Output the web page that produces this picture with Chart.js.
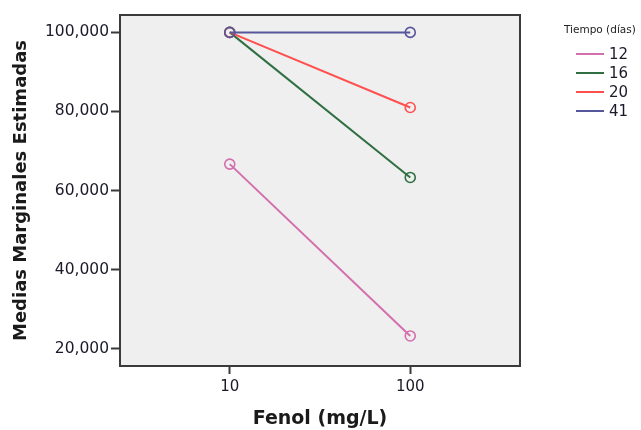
<!DOCTYPE html>
<html>
<head>
<meta charset="utf-8">
<script src="https://cdn.jsdelivr.net/npm/chart.js@4/dist/chart.umd.min.js"></script>
<style>
  html, body { margin: 0; padding: 0; background: #ffffff; }
  canvas { display: block; }
</style>
</head>
<body>
<canvas id="chart" width="641" height="430"></canvas>
<script>
// Fenol concentration levels (x categories)
const fenolLevels = ['10', '100'];

// Estimated marginal means per time group (días)
const tiempoGroups = ['12', '16', '20', '41'];
const serie12 = [66667, 23200];
const serie16 = [100000, 63300];
const serie20 = [100000, 81000];
const serie41 = [100000, 100000];

// Y axis ticks
const yTicks = [20000, 40000, 60000, 80000, 100000];

const seriesValues = [serie12, serie16, serie20, serie41];
const seriesColors = ['#d46fae', '#2f6f42', '#ff4f4f', '#56569c'];

const datasets = tiempoGroups.map((name, i) => ({
  label: name,
  data: seriesValues[i].map((v, j) => ({ x: j, y: v })),
  borderColor: seriesColors[i],
  backgroundColor: 'transparent',
  borderWidth: 2,
  pointRadius: 5,
  pointBorderWidth: 1.6,
  pointBorderColor: seriesColors[i],
  pointBackgroundColor: 'transparent',
  order: tiempoGroups.length - i
}));

const frame = {
  id: 'frame',
  beforeDatasetsDraw(chart) {
    const { ctx, chartArea: a } = chart;
    ctx.save();
    ctx.fillStyle = '#efefef';
    ctx.fillRect(a.left, a.top, a.right - a.left, a.bottom - a.top);
    ctx.restore();
  },
  afterDatasetsDraw(chart) {
    const { ctx, chartArea: a } = chart;
    ctx.save();
    ctx.strokeStyle = '#3a3a3a';
    ctx.lineWidth = 2;
    ctx.strokeRect(a.left, a.top, a.right - a.left, a.bottom - a.top);
    ctx.restore();
  },
  afterDraw(chart) {
    // legend for the time groups
    const { ctx } = chart;
    ctx.save();
    ctx.fillStyle = '#222222';
    ctx.font = '10.5px "DejaVu Sans"';
    ctx.textBaseline = 'middle';
    ctx.textAlign = 'left';
    ctx.fillText('Tiempo (días)', 564, 30);
    ctx.font = '15px "DejaVu Sans"';
    tiempoGroups.forEach((name, i) => {
      const y = 54 + i * 19;
      ctx.strokeStyle = seriesColors[i];
      ctx.lineWidth = 2;
      ctx.beginPath();
      ctx.moveTo(576, y);
      ctx.lineTo(604, y);
      ctx.stroke();
      ctx.fillStyle = '#1a1a2a';
      ctx.fillText(name, 609, y + 1);
    });
    ctx.restore();
  }
};

new Chart(document.getElementById('chart'), {
  type: 'line',
  data: { datasets },
  options: {
    responsive: false,
    animation: false,
    layout: { padding: { top: 15, right: 121, left: 0, bottom: 0 } },
    plugins: { legend: { display: false }, tooltip: { enabled: false } },
    scales: {
      x: {
        type: 'linear',
        min: -0.608,
        max: 1.608,
        afterBuildTicks: s => { s.ticks = fenolLevels.map((_, i) => ({ value: i })); },
        afterFit: s => { s.height = 64; },
        ticks: {
          callback: v => fenolLevels[v],
          font: { family: 'DejaVu Sans', size: 15 },
          color: '#1a1a2a',
          padding: 4,
          maxRotation: 0
        },
        grid: { drawOnChartArea: false, tickLength: 8, color: '#3a3a3a', tickWidth: 2 },
        border: { display: false },
        title: {
          display: true,
          text: 'Fenol (mg/L)',
          font: { family: 'DejaVu Sans', size: 19, weight: 'bold' },
          color: '#1a1a1a',
          padding: { top: 4, bottom: 0 }
        }
      },
      y: {
        type: 'linear',
        min: 15600,
        max: 104400,
        afterBuildTicks: s => { s.ticks = yTicks.map(v => ({ value: v })); },
        afterFit: s => { s.width = 120; },
        ticks: {
          callback: v => v.toLocaleString('en-US'),
          font: { family: 'DejaVu Sans', size: 15.5 },
          color: '#1a1a2a',
          padding: 2
        },
        grid: { drawOnChartArea: false, tickLength: 9, color: '#3a3a3a', tickWidth: 2 },
        border: { display: false },
        title: {
          display: true,
          text: 'Medias Marginales Estimadas',
          font: { family: 'DejaVu Sans', size: 18, weight: 'bold' },
          color: '#1a1a1a',
          padding: { top: 11, bottom: 0 }
        }
      }
    }
  },
  plugins: [frame]
});
</script>
</body>
</html>
